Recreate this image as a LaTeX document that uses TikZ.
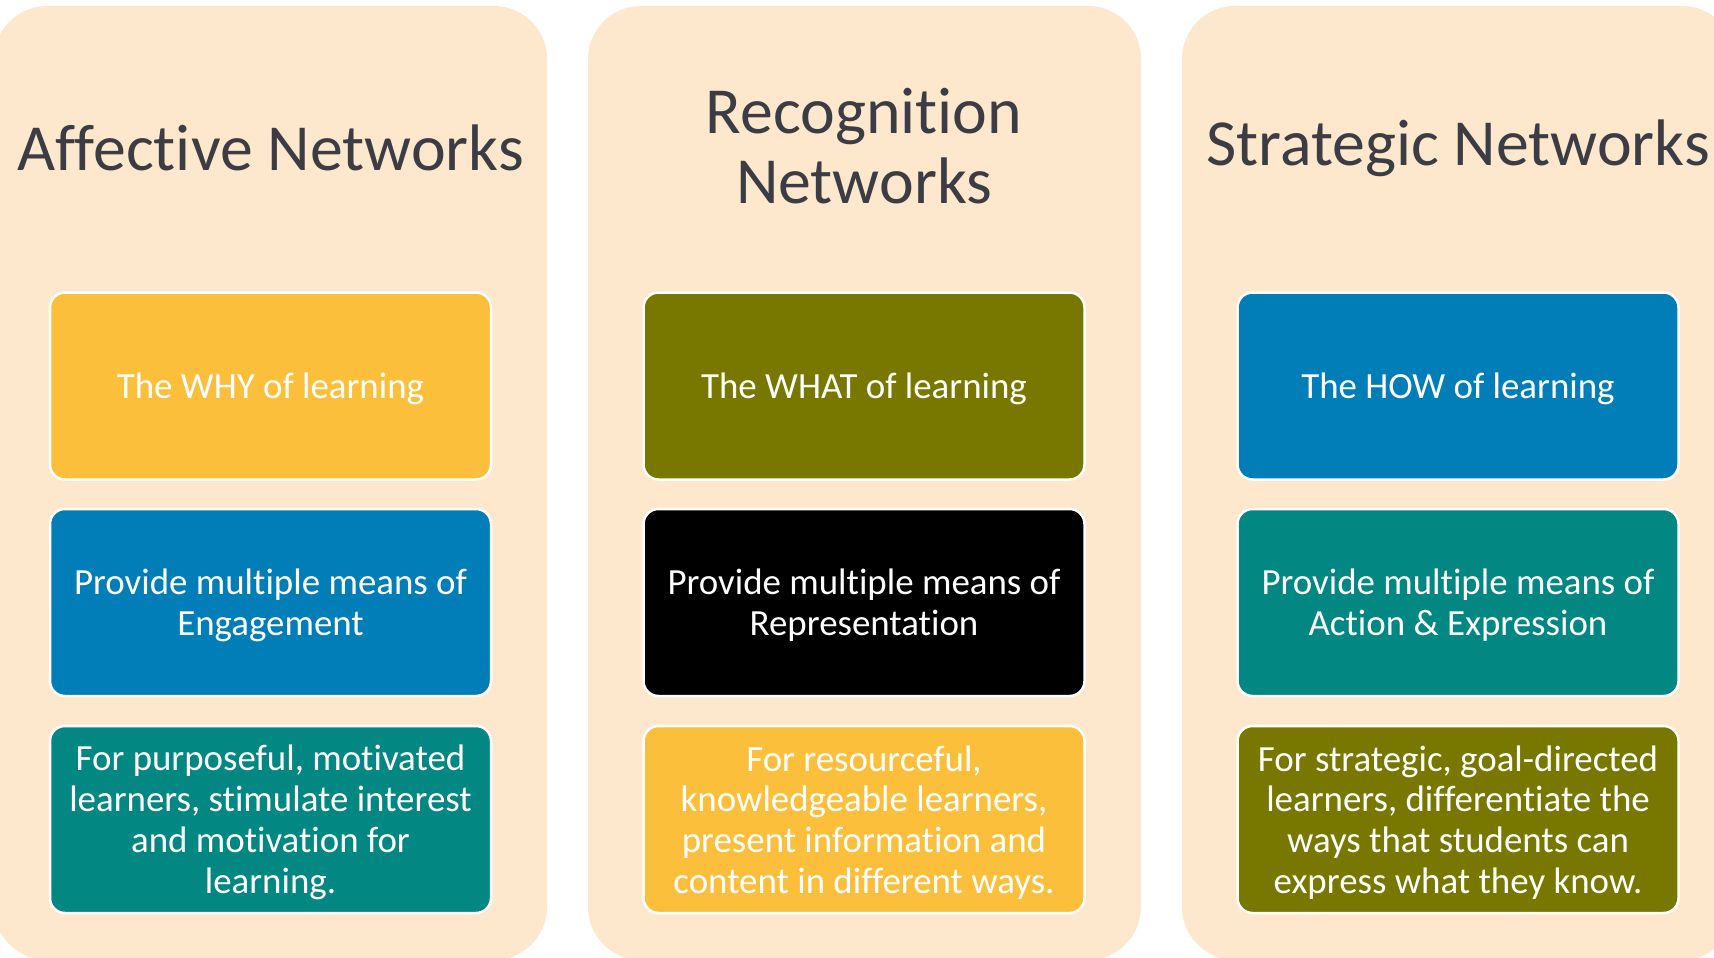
\documentclass[tikz,border=0pt]{standalone}
\usepackage{fontspec}
\setmainfont[Ligatures=NoCommon]{Carlito}
\definecolor{panelfill}{HTML}{FDE7CD}
\definecolor{titlegray}{HTML}{3C3D44}
\definecolor{udlyellow}{HTML}{FBBF3B}
\definecolor{udlblue}{HTML}{017DB8}
\definecolor{udlteal}{HTML}{028783}
\definecolor{udlolive}{HTML}{787800}
\definecolor{udlblack}{HTML}{000000}
\tikzset{
  panel/.style={fill=panelfill, draw=none, rounded corners=53pt,
    minimum width=553pt, minimum height=954pt, inner sep=0pt},
  paneltitle/.style={text=titlegray, align=center, inner sep=0pt,
    font=\fontsize{65.8}{70}\selectfont},
  infobox/.style={draw=white, line width=2.5pt, rounded corners=15pt,
    minimum width=441pt, minimum height=187pt, inner sep=0pt},
  boxtext/.style={text=white, align=center, inner sep=0pt,
    font=\fontsize{36.9}{40.8}\selectfont}
}
% box with its centred caption, nudged slightly below the geometric centre
\newcommand{\udlbox}[4]{%
  \node[infobox, fill=#2] (#1) at (#3) {};
  \node[boxtext] (#1-text) at ([yshift=-3pt]#1.center) {#4};
}
\begin{document}
\begin{tikzpicture}[x=1pt,y=-1pt]
  \useasboundingbox (0,0) rectangle (1714,958);
  \clip (0,0) rectangle (1714,958);
  \fill[white] (0,0) rectangle (1714,958);

  % three background columns
  \node[panel] (colA) at (270.5,483) {};
  \node[panel] (colB) at (864.5,483) {};
  \node[panel] (colC) at (1458.5,483) {};

  % column headings
  \node[paneltitle] (titleA) at (270.5,148) {Affective Networks};
  \node[paneltitle] (titleB) at (864,146) {Recognition\\Networks};
  \node[paneltitle] (titleC) at (1458,148) {Strategic Networks};

  % affective column
  \udlbox{whyA}{udlyellow}{270.5,386}{The WHY of learning}
  \udlbox{engA}{udlblue}{270.5,602.5}{Provide multiple means of\\Engagement}
  \udlbox{descA}{udlteal}{270.5,819.5}{For purposeful, motivated\\learners, stimulate interest\\and motivation for\\learning.}

  % recognition column
  \udlbox{whatB}{udlolive}{864,386}{The WHAT of learning}
  \udlbox{repB}{udlblack}{864,602.5}{Provide multiple means of\\Representation}
  \udlbox{descB}{udlyellow}{864,819.5}{For resourceful,\\knowledgeable learners,\\present information and\\content in different ways.}

  % strategic column
  \udlbox{howC}{udlblue}{1458,386}{The HOW of learning}
  \udlbox{actC}{udlteal}{1458,602.5}{Provide multiple means of\\Action \& Expression}
  \udlbox{descC}{udlolive}{1458,819.5}{For strategic, goal-directed\\learners, differentiate the\\ways that students can\\express what they know.}
\end{tikzpicture}
\end{document}
